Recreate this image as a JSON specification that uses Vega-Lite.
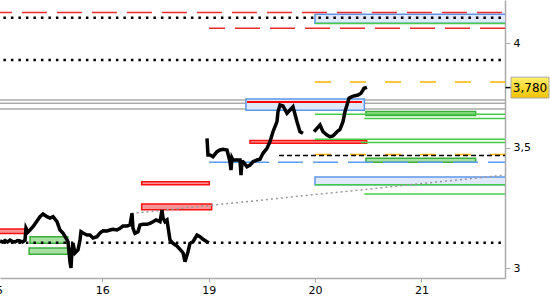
{
"$schema": "https://vega.github.io/schema/vega-lite/v6.json",
"width": 505, "height": 278,
"autosize": {"type": "none"},
"padding": {"left": 0, "top": 0, "right": 45, "bottom": 22},
"background": "white",
"config": {"view": {"stroke": null}, "font": "DejaVu Sans"},
"datasets": {
"price": [
{"seg":1,"t":0.0385,"v":3.1066},{"seg":1,"t":0.062,"v":3.1026},{"seg":1,"t":0.0856,"v":3.1085},{"seg":1,"t":0.109,"v":3.1026},{"seg":1,"t":0.1325,"v":3.1105},{"seg":1,"t":0.156,"v":3.1046},{"seg":1,"t":0.1795,"v":3.1026},{"seg":1,"t":0.203,"v":3.1085},{"seg":1,"t":0.2265,"v":3.1066},{"seg":1,"t":0.25,"v":3.1026},{"seg":1,"t":0.2735,"v":3.1105},{"seg":1,"t":0.2829,"v":3.1586},{"seg":1,"t":0.3017,"v":3.1425},{"seg":1,"t":0.3205,"v":3.1506},{"seg":1,"t":0.3487,"v":3.1639},{"seg":1,"t":0.3863,"v":3.187},{"seg":1,"t":0.4145,"v":3.2046},{"seg":1,"t":0.4427,"v":3.2157},{"seg":1,"t":0.4803,"v":3.2046},{"seg":1,"t":0.5085,"v":3.1993},{"seg":1,"t":0.5367,"v":3.2046},{"seg":1,"t":0.5743,"v":3.1842},{"seg":1,"t":0.6024,"v":3.1506},{"seg":1,"t":0.6306,"v":3.1385},{"seg":1,"t":0.6588,"v":3.1185},{"seg":1,"t":0.6776,"v":3.1038},{"seg":1,"t":0.6964,"v":3.0242},{"seg":1,"t":0.7058,"v":3.0011},{"seg":1,"t":0.7152,"v":3.071},{"seg":1,"t":0.7246,"v":3.0986},{"seg":1,"t":0.7434,"v":3.0592},{"seg":1,"t":0.7716,"v":3.071},{"seg":1,"t":0.7904,"v":3.1105},{"seg":1,"t":0.7998,"v":3.1437},{"seg":1,"t":0.8186,"v":3.1385},{"seg":1,"t":0.8562,"v":3.1305},{"seg":1,"t":0.8844,"v":3.1305},{"seg":1,"t":0.9126,"v":3.1185},{"seg":1,"t":0.9502,"v":3.1237},{"seg":1,"t":0.9784,"v":3.1385},{"seg":1,"t":1.0066,"v":3.1477},{"seg":1,"t":1.0442,"v":3.1465},{"seg":1,"t":1.0724,"v":3.1506},{"seg":1,"t":1.1006,"v":3.1534},{"seg":1,"t":1.1382,"v":3.1506},{"seg":1,"t":1.1664,"v":3.1574},{"seg":1,"t":1.1945,"v":3.1667},{"seg":1,"t":1.2321,"v":3.1667},{"seg":1,"t":1.2603,"v":3.1708},{"seg":1,"t":1.2791,"v":3.2186},{"seg":1,"t":1.2885,"v":3.1574},{"seg":1,"t":1.3073,"v":3.1373},{"seg":1,"t":1.3355,"v":3.1437},{"seg":1,"t":1.3543,"v":3.1708},{"seg":1,"t":1.3825,"v":3.1736},{"seg":1,"t":1.4201,"v":3.1736},{"seg":1,"t":1.4483,"v":3.1777},{"seg":1,"t":1.4765,"v":3.1842},{"seg":1,"t":1.5047,"v":3.1911},{"seg":1,"t":1.5235,"v":3.1882},{"seg":1,"t":1.5423,"v":3.1842},{"seg":1,"t":1.5611,"v":3.2322},{"seg":1,"t":1.5705,"v":3.1993},{"seg":1,"t":1.5893,"v":3.1842},{"seg":1,"t":1.6081,"v":3.1911},{"seg":1,"t":1.6363,"v":3.1105},{"seg":1,"t":1.6645,"v":3.0974},{"seg":1,"t":1.7021,"v":3.0868},{"seg":1,"t":1.7303,"v":3.0737},{"seg":1,"t":1.7585,"v":3.0604},{"seg":1,"t":1.7773,"v":3.0254},{"seg":1,"t":1.7867,"v":3.0386},{"seg":1,"t":1.8054,"v":3.0643},{"seg":1,"t":1.8242,"v":3.0974},{"seg":1,"t":1.8524,"v":3.1038},{"seg":1,"t":1.89,"v":3.1305},{"seg":1,"t":1.9182,"v":3.1237},{"seg":1,"t":1.9464,"v":3.1133},{"seg":1,"t":1.984,"v":3.1038},{"seg":1,"t":2.0028,"v":3.0998},
{"seg":2,"t":1.984,"v":3.5426},{"seg":2,"t":1.9934,"v":3.4677},{"seg":2,"t":2.0122,"v":3.4677},{"seg":2,"t":2.0404,"v":3.4602},{"seg":2,"t":2.078,"v":3.4824},{"seg":2,"t":2.1062,"v":3.49},{"seg":2,"t":2.1344,"v":3.4931},{"seg":2,"t":2.172,"v":3.49},{"seg":2,"t":2.2002,"v":3.4381},{"seg":2,"t":2.2096,"v":3.4018},{"seg":2,"t":2.219,"v":3.4544},{"seg":2,"t":2.2284,"v":3.4456},{"seg":2,"t":2.266,"v":3.4456},{"seg":2,"t":2.2942,"v":3.4456},{"seg":2,"t":2.3036,"v":3.3801},{"seg":2,"t":2.313,"v":3.4381},{"seg":2,"t":2.3224,"v":3.4381},{"seg":2,"t":2.36,"v":3.4162},{"seg":2,"t":2.3882,"v":3.4236},{"seg":2,"t":2.4164,"v":3.4381},{"seg":2,"t":2.454,"v":3.4456},{"seg":2,"t":2.4822,"v":3.4487},{"seg":2,"t":2.5103,"v":3.4752},{"seg":2,"t":2.5479,"v":3.4975},{"seg":2,"t":2.5761,"v":3.5272},{"seg":2,"t":2.6043,"v":3.5726},{"seg":2,"t":2.6419,"v":3.6186},{"seg":2,"t":2.6513,"v":3.6651},{"seg":2,"t":2.6701,"v":3.6967},{"seg":2,"t":2.6983,"v":3.6919},{"seg":2,"t":2.7359,"v":3.6576},{"seg":2,"t":2.7641,"v":3.6731},{"seg":2,"t":2.7923,"v":3.6886},{"seg":2,"t":2.8299,"v":3.6186},{"seg":2,"t":2.8581,"v":3.5726},{"seg":2,"t":2.8863,"v":3.5653},
{"seg":3,"t":2.9897,"v":3.5726},{"seg":3,"t":3.0179,"v":3.5882},{"seg":3,"t":3.0461,"v":3.6033},{"seg":3,"t":3.0743,"v":3.5726},{"seg":3,"t":3.1118,"v":3.5575},{"seg":3,"t":3.14,"v":3.5498},{"seg":3,"t":3.1682,"v":3.5529},{"seg":3,"t":3.2058,"v":3.5726},{"seg":3,"t":3.234,"v":3.5835},{"seg":3,"t":3.2622,"v":3.6186},{"seg":3,"t":3.281,"v":3.6651},{"seg":3,"t":3.2998,"v":3.6967},{"seg":3,"t":3.3186,"v":3.7285},{"seg":3,"t":3.3468,"v":3.7361},{"seg":3,"t":3.375,"v":3.7409},{"seg":3,"t":3.4032,"v":3.7442},{"seg":3,"t":3.4314,"v":3.7524},{"seg":3,"t":3.4596,"v":3.7764},{"seg":3,"t":3.4878,"v":3.7812}
],
"lines": [
{"style":"gray","t":0,"t2":5,"v":3.72},{"style":"gray","t":0,"t2":5,"v":3.705},{"style":"gray","t":0,"t2":5,"v":3.678},
{"style":"reddash","t":0,"t2":5,"v":4.1616},{"style":"reddash","t":2.0028,"t2":5,"v":4.0775},
{"style":"dotted","t":0,"t2":5,"v":4.133},{"style":"dotted","t":0,"t2":5,"v":3.916},{"style":"dotted","t":0,"t2":5,"v":3.1},
{"style":"orange","t":2.999,"t2":5,"v":3.807},{"style":"orange","t":2.999,"t2":5,"v":3.47},
{"style":"blackdash","t":2.661,"t2":5,"v":3.466},
{"style":"blue","t":2.0028,"t2":2.5686,"v":3.436},
{"style":"bluedash","t":2.6513,"t2":5,"v":3.436},
{"style":"green","t":2.999,"t2":5,"v":4.103},{"style":"green","t":2.999,"t2":5,"v":3.653},{"style":"green","t":3.462,"t2":5,"v":3.634},{"style":"green","t":2.999,"t2":5,"v":3.538},{"style":"green","t":3.431,"t2":5,"v":3.524},{"style":"green","t":2.999,"t2":5,"v":3.3385},{"style":"green","t":3.462,"t2":5,"v":3.299},
{"style":"red","t":2.36,"t2":3.441,"v":3.711}
],
"zones": [
{"style":"blue","t":2.999,"t2":5,"v":4.104,"v2":4.151},{"style":"blue","t":2.35,"t2":3.463,"v":3.672,"v2":3.7248},{"style":"blue","t":2.999,"t2":5,"v":3.3385,"v2":3.3716},
{"style":"red","t":0,"t2":0.289,"v":3.137,"v2":3.155},{"style":"red","t":1.37,"t2":2.006,"v":3.3385,"v2":3.351},{"style":"red","t":1.37,"t2":2.028,"v":3.2336,"v2":3.257},{"style":"red","t":2.388,"t2":3.485,"v":3.52,"v2":3.533},
{"style":"green","t":0.321,"t2":0.675,"v":3.0977,"v2":3.124},{"style":"green","t":0.312,"t2":0.68,"v":3.054,"v2":3.079},{"style":"green","t":3.478,"t2":4.509,"v":3.647,"v2":3.666},{"style":"green","t":3.478,"t2":4.509,"v":3.436,"v2":3.453}
],
"trend": [{"t":1.276,"v":3.218},{"t":4.785,"v":3.38}],
"last": [{"v":3.78,"label":"3,780"}],
"firstday": [{"t":0,"label":"15"}]
},
"encoding": {
"x": {"field":"t","type":"quantitative","scale":{"domain":[0.0385,4.785],"nice":false,"zero":false},
 "axis":{"orient":"bottom","values":[0,1,2,3,4],"labelExpr":"['15','16','19','20','21'][datum.value]","title":null,"grid":false,"domainColor":"#aaaaaa","domainWidth":1.5,"tickColor":"#aaaaaa","tickSize":4,"labelFont":"DejaVu Sans","labelFontSize":11,"labelColor":"#000000","labelFlush":false,"labelPadding":2,"labelOverlap":false}},
"y": {"field":"v","type":"quantitative","scale":{"type":"log","domain":[2.963,4.228],"nice":false},
 "axis":{"orient":"right","values":[3,3.5,4],"labelExpr":"replace(format(datum.value,'~g'),'.',',')","title":null,"grid":false,"domainColor":"#aaaaaa","domainWidth":1.5,"tickColor":"#aaaaaa","tickSize":5,"labelFont":"DejaVu Sans","labelFontSize":11,"labelColor":"#000000","labelPadding":3,"labelFlush":false}}
},
"layer": [
{"data":{"name":"lines"},"transform":[{"filter":"datum.style=='gray'"}],"mark":{"type":"rule","color":"#aaaaaa","strokeWidth":1.5,"clip":true},"encoding":{"x2":{"field":"t2"}}},
{"data":{"name":"zones"},"transform":[{"filter":"datum.style=='blue'"}],"mark":{"type":"rect","fill":"#dfe9fb","stroke":"#5f96e8","strokeWidth":1.5,"clip":true},"encoding":{"x2":{"field":"t2"},"y2":{"field":"v2"}}},
{"data":{"name":"zones"},"transform":[{"filter":"datum.style=='red'"}],"mark":{"type":"rect","fill":"#f59696","stroke":"#ff1010","strokeWidth":1.5,"clip":true},"encoding":{"x2":{"field":"t2"},"y2":{"field":"v2"}}},
{"data":{"name":"zones"},"transform":[{"filter":"datum.style=='green'"}],"mark":{"type":"rect","fill":"#a8dfa2","stroke":"#3aae3a","strokeWidth":1.5,"clip":true},"encoding":{"x2":{"field":"t2"},"y2":{"field":"v2"}}},
{"data":{"name":"lines"},"transform":[{"filter":"datum.style=='green'"}],"mark":{"type":"rule","color":"#44cc44","strokeWidth":1.5,"clip":true},"encoding":{"x2":{"field":"t2"}}},
{"data":{"name":"lines"},"transform":[{"filter":"datum.style=='reddash'"}],"mark":{"type":"rule","color":"#ee2a2a","strokeWidth":1.5,"strokeDash":[25,10],"strokeDashOffset":9,"clip":true},"encoding":{"x2":{"field":"t2"}}},
{"data":{"name":"lines"},"transform":[{"filter":"datum.style=='red'"}],"mark":{"type":"rule","color":"#ff0000","strokeWidth":2,"clip":true},"encoding":{"x2":{"field":"t2"}}},
{"data":{"name":"lines"},"transform":[{"filter":"datum.style=='orange'"}],"mark":{"type":"rule","color":"#ffb400","strokeWidth":1.5,"strokeDash":[16,19],"clip":true},"encoding":{"x2":{"field":"t2"}}},
{"data":{"name":"lines"},"transform":[{"filter":"datum.style=='blackdash'"}],"mark":{"type":"rule","color":"#000000","strokeWidth":1.5,"strokeDash":[5,3],"clip":true},"encoding":{"x2":{"field":"t2"}}},
{"data":{"name":"lines"},"transform":[{"filter":"datum.style=='blue'"}],"mark":{"type":"rule","color":"#5b9bf0","strokeWidth":1.5,"clip":true},"encoding":{"x2":{"field":"t2"}}},
{"data":{"name":"lines"},"transform":[{"filter":"datum.style=='bluedash'"}],"mark":{"type":"rule","color":"#5b9bf0","strokeWidth":1.5,"strokeDash":[25,10],"clip":true},"encoding":{"x2":{"field":"t2"}}},
{"data":{"name":"lines"},"transform":[{"filter":"datum.style=='dotted'"}],"mark":{"type":"rule","color":"#000000","strokeWidth":2.5,"strokeDash":[2.5,5],"clip":true},"encoding":{"x2":{"field":"t2"}}},
{"data":{"name":"trend"},"mark":{"type":"line","color":"#999999","strokeWidth":1.5,"strokeDash":[2,3],"clip":true},"encoding":{}},
{"data":{"name":"price"},"mark":{"type":"line","color":"#000000","strokeWidth":3.5,"strokeJoin":"miter","clip":true},"encoding":{"detail":{"field":"seg","type":"nominal"}}},
{"data":{"name":"firstday"},"mark":{"type":"text","align":"center","baseline":"top","dy":7,"font":"DejaVu Sans","fontSize":11,"color":"#000000","clip":false},"encoding":{"y":{"value":"height"},"text":{"field":"label"}}},
{"data":{"name":"last"},"mark":{"type":"point","shape":"M-1,-0.55L1,-0.55L1,0.55L-1,0.55Z","size":1444,"filled":true,"opacity":1,"fill":{"gradient":"linear","x1":0,"y1":0,"x2":0,"y2":1,"stops":[{"offset":0,"color":"#fff06a"},{"offset":1,"color":"#f2c200"}]},"stroke":"#a8a8a8","strokeWidth":1,"xOffset":25,"clip":false},"encoding":{"x":{"value":"width"}}},
{"data":{"name":"last"},"mark":{"type":"point","shape":"M-1,0L1,0","size":25,"filled":false,"opacity":1,"stroke":"#000000","strokeWidth":1.5,"xOffset":3,"clip":false},"encoding":{"x":{"value":"width"}}},
{"data":{"name":"last"},"mark":{"type":"text","xOffset":25,"align":"center","baseline":"middle","font":"DejaVu Sans","fontSize":12,"color":"#000000","clip":false},"encoding":{"x":{"value":"width"},"text":{"field":"label"}}}
]
}
